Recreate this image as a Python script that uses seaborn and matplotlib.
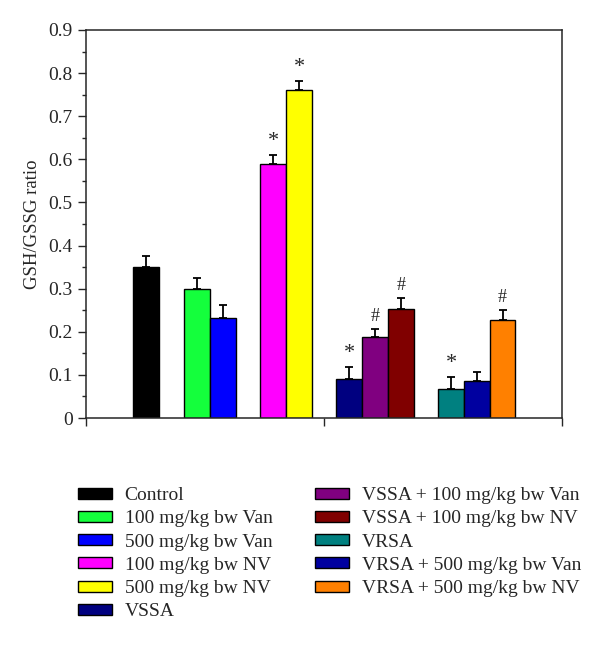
import numpy as np
import pandas as pd
import seaborn as sns
import matplotlib
matplotlib.use("Agg")
import matplotlib.pyplot as plt
from matplotlib.patches import Patch

# %% data
labels = ["Control", "100 mg/kg bw Van", "500 mg/kg bw Van", "100 mg/kg bw NV",
          "500 mg/kg bw NV", "VSSA", "VSSA + 100 mg/kg bw Van", "VSSA + 100 mg/kg bw NV",
          "VRSA", "VRSA + 500 mg/kg bw Van", "VRSA + 500 mg/kg bw NV"]
ratio = [0.350, 0.299, 0.232, 0.588, 0.760, 0.091, 0.187, 0.252, 0.068, 0.085, 0.228]
sem = [0.025, 0.026, 0.029, 0.021, 0.021, 0.027, 0.020, 0.027, 0.026, 0.022, 0.023]
marks = ["", "", "", "*", "*", "*", "#", "#", "*", "", "#"]
group_size = [1, 2, 2, 3, 3]

colors = ["#000000", "#14ff3c", "#0000ff", "#ff00ff", "#ffff00", "#000080",
          "#800080", "#800000", "#008080", "#0000a0", "#ff8000"]

# %% layout: bars packed inside groups, groups separated by gaps
group_left = [2.33, 4.32, 7.28, 10.23, 14.19]
pos = []
for left, n in zip(group_left, group_size):
    pos += [left + i for i in range(n)]

df = pd.DataFrame({"pos": pos, "ratio": ratio, "label": labels})

# %% plot
sns.set_style("ticks")
plt.rcParams["font.family"] = ["Liberation Serif", "DejaVu Serif"]

fig = plt.figure(figsize=(6, 6.46), dpi=100)
ax = fig.add_axes([0.1433, 0.3529, 0.7934, 0.6007])

sns.barplot(data=df, x="pos", y="ratio", hue="label", hue_order=labels,
            palette=colors, saturation=1, native_scale=True, dodge=False,
            width=1.0, edgecolor="black", linewidth=1, legend=False, ax=ax)

ax.errorbar(pos, ratio, yerr=[np.zeros(len(sem)), sem], fmt="none",
            ecolor="black", elinewidth=1.3, capsize=3, capthick=1.3)

for x, y, e, m in zip(pos, ratio, sem, marks):
    if m:
        ax.annotate(m, (x, y + e), xytext=(0, 3), textcoords="offset points",
                    ha="center", va="bottom", fontsize=16 if m == "*" else 13)

ax.set_xlim(0, 18.5)
ax.set_ylim(0, 0.9)
ax.set_yticks(np.arange(0, 0.91, 0.1))
ax.set_yticklabels(["0"] + [f"{v:.1f}" for v in np.arange(0.1, 0.91, 0.1)])
ax.set_yticks(np.arange(0.05, 0.9, 0.1), minor=True)
ax.set_xticks([0, 9.26, 18.5])
ax.set_xticklabels([])
ax.set_xlabel("")
ax.set_ylabel("GSH/GSSG ratio", fontsize=13.5, labelpad=5)
ax.tick_params(axis="both", which="major", length=6, width=1, labelsize=14)
ax.tick_params(axis="y", which="minor", length=3, width=1)
for s in ax.spines.values():
    s.set_visible(True)
    s.set_linewidth(1.1)

handles = [Patch(facecolor=c, edgecolor="black", linewidth=1) for c in colors]
leg_kw = dict(frameon=False, fontsize=14, handlelength=1.75, handleheight=0.5,
              handletextpad=0.65, labelspacing=0.32, borderpad=0, borderaxespad=0)
fig.legend(handles[:6], labels[:6], loc="upper left",
           bbox_to_anchor=(0.13, 0.246), **leg_kw)
fig.legend(handles[6:], labels[6:], loc="upper left",
           bbox_to_anchor=(0.525, 0.246), **leg_kw)

fig.savefig("out.png", dpi=100)
